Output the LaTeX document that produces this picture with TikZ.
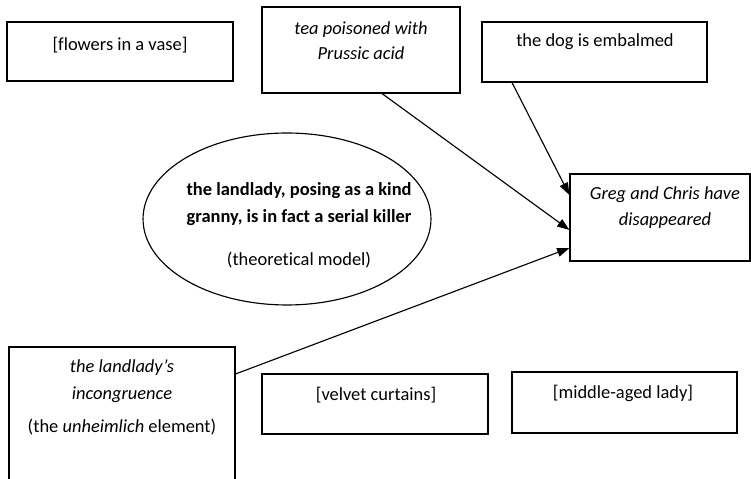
\documentclass[tikz,border=0pt]{standalone}
\usepackage{fontspec}
\setmainfont[Ligatures=NoCommon]{Carlito}
\usepackage{tikz}
\usetikzlibrary{positioning, arrows.meta, shapes.geometric, calc}
\definecolor{LineColor}{RGB}{0,0,0}
\tikzstyle{arrow} = [line width=0.65pt, LineColor, -{Triangle[length=7pt,width=5pt]}]
\tikzset{
  story box/.style={draw=LineColor, line width=0.65pt, rectangle, inner sep=0pt},
  model oval/.style={draw=LineColor, line width=0.65pt, ellipse, inner sep=0pt, minimum width=5.76cm, minimum height=3.44cm},
  story text/.style={align=center, inner sep=0pt, font=\fontsize{10.5}{14.5}\selectfont}
}

\begin{document}
\begin{tikzpicture}[x=0.02cm, y=-0.02cm]
                % Page frame
                \useasboundingbox (0,0) rectangle (751,479);
                \clip (0,0) rectangle (751,479);

                % Boxes of the story
                \node[story box, minimum width=4.52cm, minimum height=1.18cm] (flowers) at (120,51.5) {};
                \node[story box, minimum width=3.96cm, minimum height=1.72cm] (tea) at (361,50) {};
                \node[story box, minimum width=4.5cm, minimum height=1.2cm] (dog) at (594.5,52) {};
                \node[story box, minimum width=3.6cm, minimum height=1.74cm] (greg) at (660,217.5) {};
                \node[story box, minimum width=4.52cm, minimum height=2.84cm] (landlady) at (122,418) {};
                \node[story box, minimum width=4.52cm, minimum height=1.2cm] (velvet) at (375,404) {};
                \node[story box, minimum width=4.5cm, minimum height=1.22cm] (lady) at (624.5,402.5) {};

                % Theoretical model
                \node[model oval] (model) at (287,219) {};

                % Texts
                \node[story text] (flowers text) at (120,45) {[flowers in a vase]};
                \node[story text] (tea text) at (361,40.5) {\itshape tea poisoned with\\ \itshape Prussic acid};
                \node[story text] (dog text) at (595,42) {the dog is embalmed};
                \node[story text] (greg text) at (665,207.5) {\itshape Greg and Chris have\\ \itshape disappeared};
                \node[story text, font=\bfseries\fontsize{10.5}{15.4}\selectfont] (model text) at (299,225)
                    {the landlady, posing as a kind\\ granny, is in fact a serial killer\\[9pt] \mdseries(theoretical model)};
                \node[story text, font=\fontsize{10.5}{15.4}\selectfont] (landlady text) at (122,397.5)
                    {\itshape the landlady's\\ \itshape incongruence\\[3pt] (the \textit{unheimlich} element)};
                \node[story text] (velvet text) at (376,395) {[velvet curtains]};
                \node[story text] (lady text) at (623,393) {[middle-aged lady]};

                % Clues pointing to the disappearance
                \draw[arrow] ($(tea.south)+(21,0)$) -- ($(greg.west)+(0,12.5)$);
                \draw[arrow] ($(dog.south)+(-82.5,0)$) -- ($(greg.west)+(0,-22.5)$);
                \draw[arrow] ($(landlady.east)+(0,-44)$) -- ($(greg.west)+(0,30.5)$);
            \end{tikzpicture}
\end{document}
